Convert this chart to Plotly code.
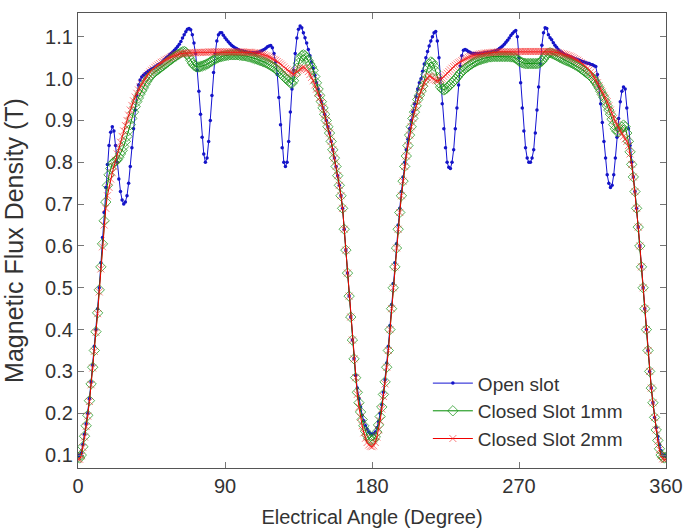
import plotly.graph_objects as go

angle = list(range(0, 361))

open_slot = [
    0.100, 0.098, 0.105, 0.125, 0.150, 0.175, 0.200, 0.235, 0.275, 0.315,
    0.360, 0.400, 0.450, 0.500, 0.560, 0.620, 0.680, 0.740, 0.795, 0.840,
    0.872, 0.885, 0.875, 0.840, 0.800, 0.760, 0.730, 0.710, 0.700, 0.705,
    0.720, 0.750, 0.790, 0.835, 0.880, 0.925, 0.960, 0.985, 0.997, 1.004,
    1.008, 1.012, 1.015, 1.018, 1.020, 1.023, 1.025, 1.028, 1.030, 1.033,
    1.035, 1.038, 1.042, 1.046, 1.050, 1.053, 1.057, 1.060, 1.064, 1.068,
    1.072, 1.077, 1.082, 1.089, 1.097, 1.105, 1.112, 1.118, 1.120, 1.117,
    1.105, 1.085, 1.060, 1.020, 0.970, 0.915, 0.860, 0.820, 0.800, 0.810,
    0.850, 0.900, 0.960, 1.015, 1.060, 1.090, 1.105, 1.110, 1.110, 1.104,
    1.098, 1.093, 1.088, 1.084, 1.080, 1.077, 1.074, 1.072, 1.070, 1.068,
    1.067, 1.066, 1.065, 1.064, 1.063, 1.062, 1.062, 1.062, 1.062, 1.062,
    1.063, 1.064, 1.066, 1.068, 1.070, 1.073, 1.076, 1.078, 1.079, 1.074,
    1.060, 1.040, 1.010, 0.955, 0.890, 0.835, 0.800, 0.790, 0.800, 0.850,
    0.920, 0.975, 1.020, 1.060, 1.097, 1.118, 1.126, 1.122, 1.110, 1.098,
    1.085, 1.070, 1.055, 1.040, 1.025, 1.008, 0.990, 0.975, 0.960, 0.945,
    0.930, 0.915, 0.900, 0.885, 0.870, 0.850, 0.830, 0.810, 0.790, 0.768,
    0.745, 0.720, 0.690, 0.640, 0.590, 0.535, 0.480, 0.430, 0.375, 0.330,
    0.290, 0.260, 0.235, 0.215, 0.195, 0.182, 0.170, 0.162, 0.155, 0.151,
    0.150, 0.151, 0.155, 0.165, 0.180, 0.200, 0.220, 0.250, 0.280, 0.320,
    0.360, 0.410, 0.460, 0.510, 0.560, 0.605, 0.650, 0.690, 0.730, 0.765,
    0.800, 0.830, 0.855, 0.880, 0.900, 0.920, 0.940, 0.957, 0.975, 0.990,
    1.000, 1.018, 1.035, 1.050, 1.065, 1.078, 1.090, 1.100, 1.110, 1.113,
    1.090, 1.050, 1.000, 0.940, 0.880, 0.835, 0.800, 0.788, 0.785, 0.800,
    0.830, 0.880, 0.930, 0.985, 1.030, 1.055, 1.068, 1.070, 1.068, 1.065,
    1.063, 1.061, 1.060, 1.060, 1.060, 1.060, 1.060, 1.061, 1.061, 1.062,
    1.062, 1.063, 1.063, 1.064, 1.065, 1.066, 1.067, 1.069, 1.072, 1.075,
    1.078, 1.082, 1.087, 1.092, 1.097, 1.103, 1.108, 1.112, 1.115, 1.100,
    1.050, 0.990, 0.930, 0.875, 0.835, 0.810, 0.800, 0.800, 0.810, 0.830,
    0.870, 0.925, 0.980, 1.035, 1.080, 1.110, 1.122, 1.120, 1.105, 1.098,
    1.093, 1.086, 1.080, 1.075, 1.070, 1.066, 1.063, 1.060, 1.058, 1.056,
    1.055, 1.053, 1.052, 1.050, 1.048, 1.047, 1.045, 1.044, 1.042, 1.041,
    1.040, 1.038, 1.037, 1.036, 1.034, 1.033, 1.031, 1.029, 1.010, 0.980,
    0.940, 0.895, 0.850, 0.810, 0.770, 0.750, 0.740, 0.745, 0.770, 0.810,
    0.860, 0.905, 0.945, 0.970, 0.980, 0.975, 0.930, 0.880, 0.840, 0.800,
    0.765, 0.730, 0.690, 0.645, 0.600, 0.550, 0.500, 0.450, 0.400, 0.350,
    0.300, 0.260, 0.225, 0.190, 0.165, 0.145, 0.125, 0.110, 0.100, 0.098,
    0.100,
]

closed_1mm = [
    0.095, 0.093, 0.100, 0.120, 0.145, 0.170, 0.195, 0.230, 0.270, 0.310,
    0.350, 0.395, 0.440, 0.495, 0.550, 0.605, 0.660, 0.705, 0.745, 0.770,
    0.785, 0.797, 0.800, 0.803, 0.806, 0.812, 0.820, 0.828, 0.838, 0.850,
    0.862, 0.876, 0.890, 0.905, 0.920, 0.933, 0.945, 0.954, 0.963, 0.971,
    0.978, 0.986, 0.993, 0.999, 1.005, 1.009, 1.013, 1.016, 1.019, 1.022,
    1.025, 1.028, 1.031, 1.034, 1.037, 1.040, 1.043, 1.046, 1.049, 1.052,
    1.054, 1.057, 1.059, 1.062, 1.064, 1.065, 1.063, 1.058, 1.052, 1.044,
    1.037, 1.032, 1.029, 1.028, 1.028, 1.029, 1.030, 1.032, 1.033, 1.035,
    1.037, 1.040, 1.042, 1.045, 1.047, 1.049, 1.051, 1.052, 1.053, 1.054,
    1.055, 1.056, 1.056, 1.057, 1.057, 1.057, 1.057, 1.057, 1.057, 1.056,
    1.056, 1.055, 1.055, 1.054, 1.053, 1.052, 1.051, 1.050, 1.048, 1.047,
    1.046, 1.044, 1.043, 1.041, 1.040, 1.038, 1.036, 1.034, 1.032, 1.029,
    1.027, 1.024, 1.020, 1.017, 1.013, 1.009, 1.005, 1.001, 0.998, 0.994,
    0.990, 0.989, 0.995, 1.010, 1.025, 1.037, 1.048, 1.055, 1.057, 1.055,
    1.050, 1.043, 1.035, 1.028, 1.020, 1.005, 0.990, 0.975, 0.960, 0.945,
    0.930, 0.915, 0.900, 0.885, 0.870, 0.850, 0.830, 0.810, 0.790, 0.768,
    0.745, 0.720, 0.690, 0.640, 0.590, 0.535, 0.480, 0.430, 0.375, 0.330,
    0.285, 0.250, 0.225, 0.203, 0.185, 0.170, 0.157, 0.147, 0.140, 0.136,
    0.135, 0.137, 0.143, 0.155, 0.172, 0.192, 0.215, 0.245, 0.275, 0.310,
    0.350, 0.400, 0.450, 0.500, 0.550, 0.595, 0.640, 0.680, 0.720, 0.755,
    0.790, 0.815, 0.840, 0.865, 0.885, 0.905, 0.920, 0.935, 0.950, 0.960,
    0.970, 0.982, 0.995, 1.010, 1.025, 1.035, 1.040, 1.038, 1.030, 1.018,
    1.003, 0.990, 0.980, 0.975, 0.973, 0.975, 0.978, 0.982, 0.986, 0.990,
    0.994, 0.998, 1.003, 1.008, 1.013, 1.017, 1.020, 1.024, 1.027, 1.030,
    1.033, 1.035, 1.038, 1.040, 1.042, 1.044, 1.045, 1.047, 1.048, 1.049,
    1.050, 1.051, 1.052, 1.052, 1.053, 1.053, 1.053, 1.053, 1.053, 1.053,
    1.053, 1.053, 1.053, 1.053, 1.053, 1.052, 1.052, 1.051, 1.049, 1.046,
    1.042, 1.040, 1.038, 1.037, 1.036, 1.036, 1.036, 1.036, 1.036, 1.036,
    1.036, 1.036, 1.037, 1.039, 1.042, 1.047, 1.053, 1.058, 1.061, 1.062,
    1.061, 1.059, 1.057, 1.055, 1.053, 1.051, 1.049, 1.047, 1.045, 1.043,
    1.042, 1.040, 1.038, 1.036, 1.034, 1.032, 1.030, 1.027, 1.024, 1.021,
    1.018, 1.015, 1.012, 1.009, 1.005, 1.001, 0.997, 0.991, 0.985, 0.978,
    0.970, 0.962, 0.955, 0.945, 0.935, 0.925, 0.915, 0.903, 0.890, 0.880,
    0.874, 0.873, 0.878, 0.884, 0.889, 0.885, 0.870, 0.850, 0.825, 0.795,
    0.765, 0.730, 0.690, 0.645, 0.600, 0.550, 0.500, 0.450, 0.400, 0.350,
    0.300, 0.260, 0.225, 0.190, 0.160, 0.135, 0.115, 0.100, 0.095, 0.093,
    0.095,
]

closed_2mm = [
    0.090, 0.090, 0.098, 0.118, 0.143, 0.168, 0.193, 0.228, 0.268, 0.308,
    0.348, 0.393, 0.438, 0.490, 0.545, 0.598, 0.650, 0.690, 0.720, 0.740,
    0.760, 0.775, 0.790, 0.805, 0.820, 0.834, 0.848, 0.862, 0.875, 0.888,
    0.900, 0.913, 0.925, 0.936, 0.947, 0.956, 0.965, 0.973, 0.980, 0.987,
    0.993, 1.000, 1.006, 1.011, 1.016, 1.020, 1.023, 1.027, 1.030, 1.033,
    1.036, 1.039, 1.041, 1.044, 1.046, 1.048, 1.050, 1.052, 1.054, 1.056,
    1.057, 1.058, 1.059, 1.060, 1.060, 1.061, 1.061, 1.061, 1.062, 1.062,
    1.062, 1.062, 1.062, 1.063, 1.063, 1.063, 1.063, 1.063, 1.063, 1.063,
    1.064, 1.064, 1.064, 1.064, 1.064, 1.064, 1.064, 1.064, 1.064, 1.064,
    1.064, 1.064, 1.064, 1.064, 1.064, 1.064, 1.064, 1.064, 1.064, 1.064,
    1.064, 1.064, 1.063, 1.063, 1.063, 1.063, 1.063, 1.062, 1.062, 1.062,
    1.061, 1.060, 1.059, 1.058, 1.057, 1.055, 1.054, 1.052, 1.050, 1.048,
    1.046, 1.044, 1.041, 1.038, 1.035, 1.032, 1.028, 1.024, 1.021, 1.018,
    1.015, 1.013, 1.012, 1.013, 1.016, 1.020, 1.023, 1.025, 1.026, 1.025,
    1.022, 1.017, 1.010, 1.003, 0.995, 0.985, 0.975, 0.965, 0.955, 0.943,
    0.930, 0.915, 0.900, 0.885, 0.870, 0.850, 0.830, 0.810, 0.790, 0.768,
    0.745, 0.720, 0.690, 0.640, 0.590, 0.535, 0.480, 0.430, 0.375, 0.330,
    0.285, 0.245, 0.215, 0.190, 0.170, 0.153, 0.140, 0.130, 0.124, 0.121,
    0.120, 0.122, 0.130, 0.143, 0.160, 0.182, 0.210, 0.240, 0.270, 0.310,
    0.350, 0.400, 0.450, 0.500, 0.550, 0.595, 0.640, 0.680, 0.720, 0.755,
    0.790, 0.815, 0.840, 0.865, 0.885, 0.905, 0.920, 0.935, 0.950, 0.960,
    0.970, 0.980, 0.990, 0.997, 1.003, 1.006, 1.005, 1.002, 0.998, 0.996,
    0.995, 0.996, 0.998, 1.001, 1.005, 1.009, 1.013, 1.017, 1.021, 1.025,
    1.029, 1.032, 1.035, 1.038, 1.040, 1.043, 1.045, 1.047, 1.049, 1.051,
    1.053, 1.054, 1.055, 1.056, 1.057, 1.058, 1.059, 1.060, 1.060, 1.061,
    1.061, 1.062, 1.062, 1.062, 1.063, 1.063, 1.063, 1.064, 1.064, 1.064,
    1.064, 1.064, 1.064, 1.064, 1.064, 1.064, 1.064, 1.064, 1.064, 1.064,
    1.065, 1.065, 1.065, 1.065, 1.065, 1.065, 1.065, 1.065, 1.065, 1.065,
    1.065, 1.065, 1.065, 1.065, 1.065, 1.065, 1.065, 1.065, 1.065, 1.065,
    1.064, 1.064, 1.063, 1.063, 1.062, 1.061, 1.060, 1.059, 1.058, 1.057,
    1.055, 1.054, 1.052, 1.050, 1.048, 1.046, 1.044, 1.041, 1.038, 1.035,
    1.032, 1.029, 1.025, 1.021, 1.016, 1.010, 1.004, 0.997, 0.990, 0.983,
    0.975, 0.968, 0.960, 0.953, 0.945, 0.935, 0.925, 0.915, 0.905, 0.897,
    0.890, 0.882, 0.875, 0.868, 0.862, 0.856, 0.850, 0.840, 0.820, 0.795,
    0.765, 0.730, 0.690, 0.645, 0.600, 0.550, 0.500, 0.450, 0.400, 0.350,
    0.300, 0.260, 0.225, 0.190, 0.160, 0.133, 0.113, 0.098, 0.091, 0.089,
    0.090,
]

x_ticks = [0, 90, 180, 270, 360]
y_ticks = [0.1, 0.2, 0.3, 0.4, 0.5, 0.6, 0.7, 0.8, 0.9, 1.0, 1.1]
y_ticktext = ["0.1", "0.2", "0.3", "0.4", "0.5", "0.6", "0.7", "0.8", "0.9", "1.0", "1.1"]

series_names = ["Open slot", "Closed Slot 1mm", "Closed Slot 2mm"]

fig = go.Figure()

fig.add_trace(go.Scatter(
    x=angle, y=open_slot, name=series_names[0], mode="lines+markers",
    legendgroup="a",
    line=dict(color="rgb(20,20,210)", width=1),
    marker=dict(symbol="circle", size=3.5, color="rgb(20,20,200)"),
))
fig.add_trace(go.Scatter(
    x=angle, y=closed_1mm, name=series_names[1], mode="lines+markers",
    legendgroup="b",
    line=dict(color="rgb(0,140,0)", width=1),
    marker=dict(symbol="diamond-open", size=8, color="rgba(30,150,30,0.75)",
                line=dict(width=1)),
))
fig.add_trace(go.Scatter(
    x=angle, y=closed_2mm, name=series_names[2], mode="lines+markers",
    legendgroup="c",
    line=dict(color="rgb(240,0,0)", width=1),
    marker=dict(symbol="x-thin-open", size=7, color="rgba(245,40,40,0.6)",
                line=dict(width=1)),
))

axis_common = dict(
    showline=True, linecolor="#555555", linewidth=1.3, mirror="allticks",
    ticks="inside", ticklen=6, tickcolor="#777777", tickwidth=1,
    showgrid=False, zeroline=False, automargin=False,
    tickfont=dict(size=20, color="#333333"),
)

fig.update_layout(
    width=687, height=528,
    margin=dict(l=78, r=21, t=13, b=60),
    plot_bgcolor="white", paper_bgcolor="white",
    font=dict(family="Liberation Sans, Arial, sans-serif", size=19, color="#333333"),
    xaxis=dict(range=[0, 360], tickvals=x_ticks,
               title=dict(text="Electrical Angle (Degree)", font=dict(size=20)),
               **axis_common),
    yaxis=dict(range=[0.069, 1.157], tickvals=y_ticks, ticktext=y_ticktext,
               title=dict(text="Magnetic Flux Density (T)", font=dict(size=25)),
               **axis_common),
    legend=dict(x=0.595, y=0.228, xanchor="left", yanchor="top",
                bgcolor="rgba(0,0,0,0)", font=dict(size=19),
                tracegroupgap=0, itemwidth=40),
    showlegend=True,
)

fig.write_html("out.html", config={"displayModeBar": False},
               post_script="document.body.style.margin='0px';")
